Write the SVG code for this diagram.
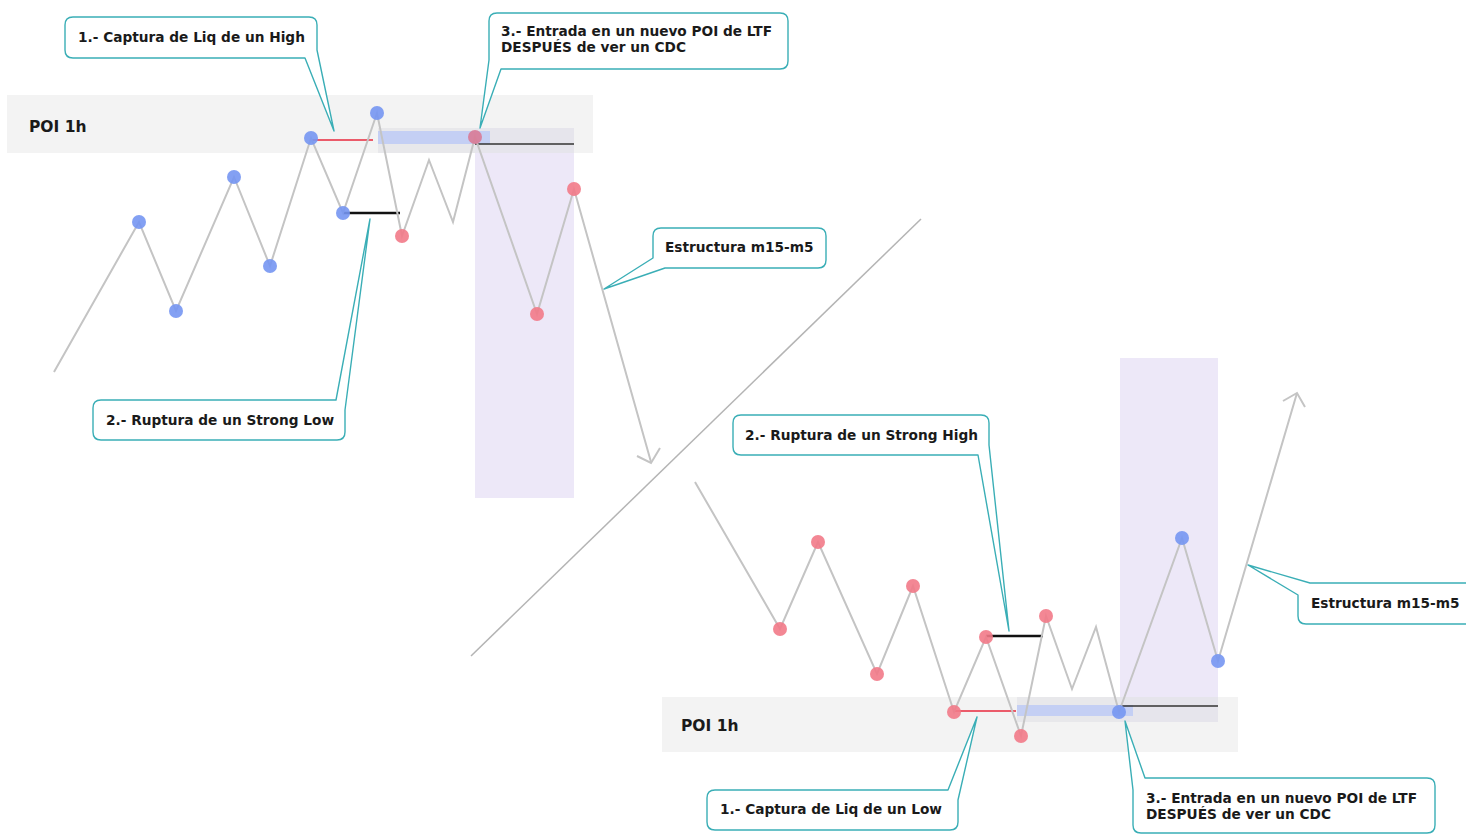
<svg xmlns="http://www.w3.org/2000/svg" width="1466" height="835" viewBox="0 0 1466 835">
<defs>
<style>
.poi{fill:#f3f3f3}
.ltf{fill:#e5e5e8}
.zone{fill:#ebe6f7;opacity:0.9}
.blueb{fill:#c4cff4}
.zig{fill:none;stroke:#c4c4c4;stroke-width:2;stroke-linejoin:miter}
.diag{fill:none;stroke:#b4b4b4;stroke-width:1.5}
.blk{stroke:#111;stroke-width:2.5}
.blkt{stroke:#333;stroke-width:1.3}
.red{stroke:#e8283c;stroke-width:1.3}
.db{fill:#7596f2;opacity:0.9}
.dr{fill:#f27a88;opacity:0.9}
.co{fill:#fff;stroke:#3aaeb6;stroke-width:1.4;stroke-linejoin:round}
.t{font-family:"DejaVu Sans",sans-serif;font-weight:bold;font-size:13.7px;fill:#1a1a1a}
.pt{font-family:"DejaVu Sans",sans-serif;font-weight:bold;font-size:15.5px;fill:#1a1a1a}
</style>
</defs>
<rect width="1466" height="835" fill="#fff"/>
<g id="top-zones">
<rect class="poi" x="7" y="95" width="586" height="58"/>
<rect class="zone" x="475" y="128" width="99" height="370"/>
<rect class="ltf" x="378" y="128" width="196" height="25" opacity="0.8"/>
<rect class="blueb" x="378" y="131" width="112" height="13"/>
<text class="pt" x="29" y="132">POI 1h</text>
</g>
<g id="bottom-zones">
<rect class="poi" x="662" y="697" width="576" height="55"/>
<rect class="zone" x="1120" y="358" width="98" height="364"/>
<rect class="ltf" x="1017" y="697" width="201" height="25" opacity="0.8"/>
<rect class="blueb" x="1017" y="705" width="116" height="11"/>
<text class="pt" x="681" y="731">POI 1h</text>
</g>
<g id="connectors">
<line class="diag" x1="471" y1="656" x2="921" y2="219"/>
<line class="red" x1="311" y1="140" x2="373" y2="140"/>
<line class="blk" x1="343" y1="213" x2="400" y2="213"/>
<line class="blkt" x1="475" y1="144" x2="574" y2="144"/>
<polyline class="zig" points="54,372 139,222 176,311 234,177 270,266 311,138 343,213 377,113 402,236 429,160 453,222 475,137 537,314 574,189 651,462"/>
<polyline class="zig" points="637,456 651,463 660,448"/>
<line class="red" x1="954" y1="711" x2="1016" y2="711"/>
<line class="blk" x1="986" y1="636" x2="1043" y2="636"/>
<line class="blkt" x1="1120" y1="706" x2="1218" y2="706"/>
<polyline class="zig" points="695,482 780,629 818,542 877,674 913,586 954,712 986,637 1021,736 1046,616 1072,689 1096,627 1119,712 1182,538 1218,661 1297,393"/>
<polyline class="zig" points="1283,401 1297,393 1305,407"/>
</g>
<g id="top-dots">
<circle class="db" cx="139" cy="222" r="7"/>
<circle class="db" cx="176" cy="311" r="7"/>
<circle class="db" cx="234" cy="177" r="7"/>
<circle class="db" cx="270" cy="266" r="7"/>
<circle class="db" cx="311" cy="138" r="7"/>
<circle class="db" cx="343" cy="213" r="7"/>
<circle class="db" cx="377" cy="113" r="7"/>
<circle class="dr" cx="402" cy="236" r="7"/>
<circle class="dr" cx="475" cy="137" r="7" style="fill:#d97a96"/>
<circle class="dr" cx="537" cy="314" r="7"/>
<circle class="dr" cx="574" cy="189" r="7"/>
</g>
<g id="bottom-dots">
<circle class="dr" cx="780" cy="629" r="7"/>
<circle class="dr" cx="818" cy="542" r="7"/>
<circle class="dr" cx="877" cy="674" r="7"/>
<circle class="dr" cx="913" cy="586" r="7"/>
<circle class="dr" cx="954" cy="712" r="7"/>
<circle class="dr" cx="986" cy="637" r="7"/>
<circle class="dr" cx="1021" cy="736" r="7"/>
<circle class="dr" cx="1046" cy="616" r="7"/>
<circle class="db" cx="1119" cy="712" r="7"/>
<circle class="db" cx="1182" cy="538" r="7"/>
<circle class="db" cx="1218" cy="661" r="7"/>
</g>
<g id="callout-top-1">
<path class="co" d="M73,17 H309 Q317,17 317,25 V50 L334,131 L305,58 H73 Q65,58 65,50 V25 Q65,17 73,17 Z"/>
<text class="t" x="78" y="42">1.- Captura de Liq de un High</text>
</g>
<g id="callout-top-3">
<path class="co" d="M497,13 H780 Q788,13 788,21 V61 Q788,69 780,69 H501 L480,128 L489,60 V21 Q489,13 497,13 Z"/>
<text class="t" x="501" y="36">3.- Entrada en un nuevo POI de LTF</text>
<text class="t" x="501" y="52">DESPUÉS de ver un CDC</text>
</g>
<g id="callout-top-estructura">
<path class="co" d="M661,228 H818 Q826,228 826,236 V260 Q826,268 818,268 H665 L604,289 L653,258 V236 Q653,228 661,228 Z"/>
<text class="t" x="665" y="252">Estructura m15-m5</text>
</g>
<g id="callout-top-2">
<path class="co" d="M101,400 H336 L370,219 L345,410 V432 Q345,440 337,440 H101 Q93,440 93,432 V408 Q93,400 101,400 Z"/>
<text class="t" x="106" y="425">2.- Ruptura de un Strong Low</text>
</g>
<g id="callout-bottom-2">
<path class="co" d="M741,415 H981 Q989,415 989,423 V445 L1009,631 L978,455 H741 Q733,455 733,447 V423 Q733,415 741,415 Z"/>
<text class="t" x="745" y="440">2.- Ruptura de un Strong High</text>
</g>
<g id="callout-bottom-1">
<path class="co" d="M715,790 H948 L977,717 L958,800 V822 Q958,830 950,830 H715 Q707,830 707,822 V798 Q707,790 715,790 Z"/>
<text class="t" x="720" y="814">1.- Captura de Liq de un Low</text>
</g>
<g id="callout-bottom-3">
<path class="co" d="M1133,790 L1125,721 L1145,778 H1427 Q1435,778 1435,786 V825 Q1435,833 1427,833 H1141 Q1133,833 1133,825 Z"/>
<text class="t" x="1146" y="803">3.- Entrada en un nuevo POI de LTF</text>
<text class="t" x="1146" y="819">DESPUÉS de ver un CDC</text>
</g>
<g id="callout-bottom-estructura">
<path class="co" d="M1298,595 L1248,565 L1310,583 H1472 V624 H1306 Q1298,624 1298,616 Z"/>
<text class="t" x="1311" y="608">Estructura m15-m5</text>
</g>
</svg>
